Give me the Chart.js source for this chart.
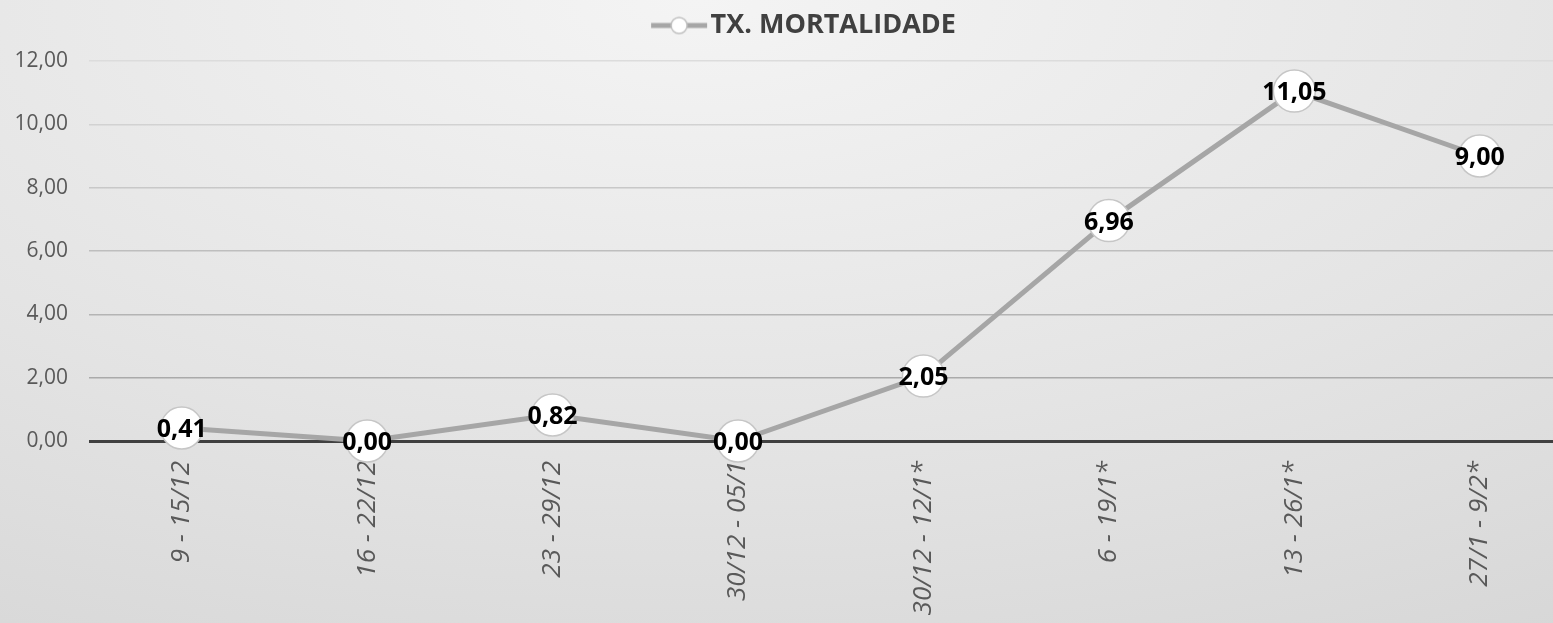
<!DOCTYPE html>
<html>
<head>
<meta charset="utf-8">
<script src="https://cdn.jsdelivr.net/npm/chart.js@4/dist/chart.umd.min.js"></script>
<style>
  html, body { margin: 0; padding: 0; overflow: hidden; }
  body {
    width: 1553px; height: 623px;
    background: radial-gradient(ellipse 120% 140% at 45% 0%, #f4f4f4 0%, #e4e4e4 50%, #d2d2d2 100%);
  }
  #wrap { position: absolute; left: 0; top: 0; width: 1595px; height: 623px; }
</style>
</head>
<body>
<div id="wrap"><canvas id="mortChart"></canvas></div>
<script>
// semanas epidemiológicas
const categories = ["9 - 15/12", "16 - 22/12", "23 - 29/12", "30/12 - 05/1", "30/12 - 12/1*", "6 - 19/1*", "13 - 26/1*", "27/1 - 9/2*"];
const mortalityRate = [0.41, 0.00, 0.82, 0.00, 2.05, 6.96, 11.05, 9.00];
const seriesName = "TX. MORTALIDADE";

const fmt = v => Number(v).toFixed(2).replace(".", ",");

// icone da legenda: linha + circulo (deslocado p/ direita p/ encostar no texto)
const legendIcon = document.createElement("canvas");
legendIcon.width = 80; legendIcon.height = 22;
(() => {
  const c = legendIcon.getContext("2d");
  c.strokeStyle = "#a6a6a6"; c.lineWidth = 5;
  c.beginPath(); c.moveTo(23, 11); c.lineTo(79, 11); c.stroke();
  c.beginPath(); c.arc(51, 11, 8, 0, Math.PI * 2);
  c.fillStyle = "#fff"; c.fill();
  c.strokeStyle = "#bfbfbf"; c.lineWidth = 1.5; c.stroke();
})();

// altura fixa da legenda -> topo da area do grafico
const legendHeight = {
  id: "legendHeight",
  beforeLayout(chart) {
    const lg = chart.legend;
    if (lg && !lg._patched) {
      const fit = lg.fit;
      lg.fit = function () { fit.call(this); this.height = 61; };
      lg._patched = true;
    }
  }
};

const valueLabels = {
  id: "valueLabels",
  afterDatasetsDraw(chart) {
    const ctx = chart.ctx;
    const meta = chart.getDatasetMeta(0);
    ctx.save();
    ctx.font = "bold 25px 'Open Sans'";
    ctx.fillStyle = "#000";
    ctx.textAlign = "center";
    ctx.textBaseline = "middle";
    meta.data.forEach((pt, i) => {
      ctx.fillText(fmt(chart.data.datasets[0].data[i]), pt.x, pt.y + 2);
    });
    ctx.restore();
  }
};

new Chart(document.getElementById("mortChart"), {
  type: "line",
  data: {
    labels: categories,
    datasets: [{
      label: seriesName,
      data: mortalityRate,
      borderColor: "#a6a6a6",
      borderWidth: 5,
      pointRadius: 21,
      pointHoverRadius: 21,
      pointBackgroundColor: "#ffffff",
      pointBorderColor: "#c6c6c6",
      pointBorderWidth: 1.5,
      tension: 0,
      clip: false
    }]
  },
  options: {
    responsive: true,
    maintainAspectRatio: false,
    animation: false,
    layout: { padding: 0 },
    plugins: {
      tooltip: { enabled: false },
      legend: {
        position: "top",
        labels: {
          usePointStyle: true,
          pointStyleWidth: 58,
          padding: 12,
          color: "#404040",
          font: { family: "'Open Sans'", size: 27, weight: "bold" },
          generateLabels: chart => [{
            text: seriesName,
            pointStyle: legendIcon,
            fontColor: "#404040",
            datasetIndex: 0
          }]
        }
      }
    },
    scales: {
      x: {
        offset: true,
        grid: { display: false },
        border: { display: false },
        ticks: {
          autoSkip: false,
          minRotation: 90,
          maxRotation: 90,
          padding: 12,
          color: "#595959",
          font: { family: "'Open Sans'", size: 26, style: "italic" }
        },
        afterFit: s => { s.height = 182; s.paddingLeft = 0; s.paddingRight = 0; }
      },
      y: {
        min: 0,
        max: 12,
        border: { display: false },
        grid: {
          drawTicks: false,
          color: c => c.tick.value === 0 ? "#404040" : `rgb(${Math.round(160 + c.tick.value * 5)},${Math.round(160 + c.tick.value * 5)},${Math.round(160 + c.tick.value * 5)})`,
          lineWidth: c => c.tick.value === 0 ? 3 : 1.5
        },
        ticks: {
          stepSize: 2,
          padding: 21,
          color: "#595959",
          font: { family: "'Open Sans'", size: 21 },
          callback: v => fmt(v)
        },
        afterFit: s => { s.width = 89; s.paddingTop = 0; s.paddingBottom = 0; }
      }
    }
  },
  plugins: [legendHeight, valueLabels]
});
</script>
</body>
</html>
